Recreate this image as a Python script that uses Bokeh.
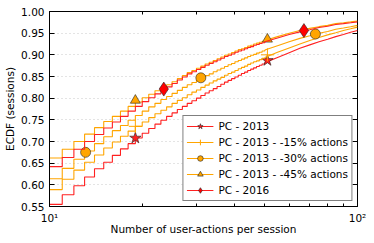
from bokeh.plotting import figure
from bokeh.models import (FixedTicker, NumeralTickFormatter, LinearAxis, LogAxis,
                          Legend, LegendItem, Range1d, CustomJSTickFormatter)
from bokeh.embed import file_html
from bokeh.resources import INLINE

# ---- data ----
n_actions = list(range(10, 51)) + [55, 60, 65, 70, 75, 80, 85, 90, 95, 100]

ecdf_pc2013 = [.555, .577, .598, .618, .637, .652, .668, .683, .695, .708,
               .719, .730, .740, .749, .758, .766, .774, .781, .788, .794,
               .800, .806, .812, .817, .822, .827, .832, .837, .841, .845,
               .849, .853, .857, .860, .864, .867, .870, .873, .876, .879,
               .882,
               .894, .905, .915, .923, .930, .936, .942, .947, .952, .956]
ecdf_minus15 = [.589, .613, .634, .652, .669, .685, .699, .712, .724, .735,
                .745, .755, .764, .772, .780, .788, .795, .801, .808, .814,
                .819, .825, .830, .835, .840, .844, .848, .853, .857, .860,
                .864, .868, .871, .874, .878, .881, .884, .886, .889, .892,
                .894,
                .906, .916, .925, .933, .940, .946, .951, .956, .960, .964]
ecdf_minus30 = [.614, .638, .659, .678, .695, .711, .725, .737, .749, .760,
                .770, .780, .788, .797, .804, .811, .818, .825, .831, .836,
                .842, .847, .852, .856, .861, .865, .869, .873, .877, .880,
                .884, .887, .890, .893, .896, .899, .901, .904, .906, .909,
                .911,
                .921, .930, .938, .944, .950, .954, .959, .962, .965, .968]
ecdf_minus45 = [.662, .682, .700, .717, .732, .746, .758, .770, .781, .791,
                .801, .809, .817, .824, .831, .838, .845, .852, .859, .864,
                .869, .874, .879, .883, .887, .891, .895, .899, .902, .905,
                .909, .912, .914, .917, .920, .922, .925, .927, .929, .931,
                .933,
                .942, .950, .956, .961, .965, .968, .972, .974, .976, .978]
ecdf_pc2016 = [.642, .663, .682, .700, .716, .731, .745, .758, .770, .781,
               .792, .801, .810, .818, .826, .834, .842, .849, .856, .861,
               .866, .871, .876, .880, .884, .888, .892, .896, .899, .902,
               .906, .909, .911, .914, .917, .919, .922, .924, .926, .928,
               .930,
               .939, .947, .953, .958, .963, .966, .970, .972, .974, .976]

mk_pc2013_x = [19, 51];          mk_pc2013_y = [0.708, 0.887]
mk_minus15_x = [19, 51];         mk_minus15_y = [0.735, 0.900]
mk_minus30_x = [13.1, 31, 73];   mk_minus30_y = [0.675, 0.847, 0.948]
mk_minus45_x = [19, 51];         mk_minus45_y = [0.795, 0.936]
mk_pc2016_x = [23.5, 67];        mk_pc2016_y = [0.821, 0.956]

labels = ["PC - 2013", "PC - 2013 - -15% actions", "PC - 2013 - -30% actions",
          "PC - 2013 - -45% actions", "PC - 2016"]

y_ticks = [0.55, 0.60, 0.65, 0.70, 0.75, 0.80, 0.85, 0.90, 0.95, 1.00]
x_major = [10, 100]
x_minor = [20, 30, 40, 50, 60, 70, 80, 90]

RED = "#ff2020"
ORANGE = "#ffa500"
FONT = "DejaVu Sans"
FS = "10.5px"

p = figure(width=374, height=243, x_axis_type="log",
           x_range=Range1d(10, 100), y_range=Range1d(0.55, 1.0),
           output_backend="svg", toolbar_location=None,
           min_border_left=49, min_border_right=17, min_border_top=11,
           min_border_bottom=37)
p.background_fill_color = "white"
p.border_fill_color = "white"
p.outline_line_color = "black"
p.outline_line_width = 1

xt = FixedTicker(ticks=x_major, minor_ticks=x_minor)
yt = FixedTicker(ticks=y_ticks)

p.xaxis.ticker = xt
p.yaxis.ticker = yt
p.yaxis.formatter = NumeralTickFormatter(format="0.00")
p.xaxis.major_label_overrides = {10: "10\u00b9", 100: "10\u00b2"}

for ax in (p.xaxis[0], p.yaxis[0]):
    ax.major_tick_in = 5
    ax.major_tick_out = 0
    ax.minor_tick_in = 3
    ax.minor_tick_out = 0
    ax.axis_line_color = "black"
    ax.major_tick_line_color = "black"
    ax.minor_tick_line_color = "black"
    ax.major_label_text_font = FONT
    ax.major_label_text_font_size = FS
    ax.major_label_text_color = "black"
    ax.axis_label_text_font = FONT
    ax.axis_label_text_font_size = FS
    ax.axis_label_text_font_style = "normal"
    ax.axis_label_text_color = "black"
p.yaxis.minor_tick_line_color = None
p.xaxis.axis_label = "Number of user-actions per session"
p.yaxis.axis_label = "ECDF (sessions)"
p.xaxis.major_label_standoff = 5
p.yaxis.major_label_standoff = 5
p.xaxis.axis_label_standoff = -4
p.yaxis.axis_label_standoff = 2

blank = CustomJSTickFormatter(code="return ''")
top = LogAxis(ticker=xt, formatter=blank, major_tick_in=5, major_tick_out=0,
              minor_tick_in=3, minor_tick_out=0, major_label_text_font_size="2px",
              major_label_standoff=0, axis_line_color=None)
right = LinearAxis(ticker=yt, formatter=blank, major_tick_in=5, major_tick_out=0,
                   minor_tick_line_color=None, major_label_text_font_size="2px",
                   major_label_standoff=0, axis_line_color=None)
p.add_layout(top, "above")
p.add_layout(right, "right")

p.xgrid.grid_line_color = None
p.ygrid.grid_line_color = "#c8c8c8"
p.ygrid.grid_line_dash = "1 3"
p.ygrid.grid_line_width = 1

series = [
    (ecdf_pc2013, RED, mk_pc2013_x, mk_pc2013_y, "star", 12, RED),
    (ecdf_minus15, ORANGE, mk_minus15_x, mk_minus15_y, "cross", 13, ORANGE),
    (ecdf_minus30, ORANGE, mk_minus30_x, mk_minus30_y, "circle", 10, ORANGE),
    (ecdf_minus45, ORANGE, mk_minus45_x, mk_minus45_y, "triangle", 10, ORANGE),
    (ecdf_pc2016, RED, mk_pc2016_x, mk_pc2016_y, "diamond", 14, "#ff0000"),
]

n_head = n_actions.index(50) + 1
items = []
for (vals, col, mx, my, marker, size, fill), lab in zip(series, labels):
    r_step = p.step(x=n_actions[:n_head], y=vals[:n_head], mode="after",
                    line_color=col, line_width=1.1)
    p.line(x=n_actions[n_head - 1:], y=vals[n_head - 1:], line_color=col,
           line_width=1.1)
    if marker == "cross":
        r_mk = p.scatter(x=mx, y=my, marker=marker, size=size, line_color=col,
                         line_width=1)
    else:
        r_mk = p.scatter(x=mx, y=my, marker=marker, size=size, fill_color=fill,
                         line_color="#222222", line_width=0.6)
    items.append(LegendItem(label=lab, renderers=[r_step, r_mk]))

legend = Legend(items=items, location="bottom_right",
                label_text_font=FONT, label_text_font_size=FS,
                label_text_color="black",
                glyph_width=27, glyph_height=14, label_height=14,
                label_standoff=5, spacing=2, padding=3, margin=5,
                border_line_color="black", border_line_width=1,
                background_fill_color="white", background_fill_alpha=1)
p.add_layout(legend, "center")

open("out.html", "w").write(file_html(p, INLINE))
